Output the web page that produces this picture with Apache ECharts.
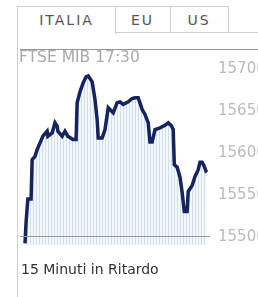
<!DOCTYPE html>
<html>
<head>
<meta charset="utf-8">
<script src="https://cdn.jsdelivr.net/npm/echarts@6/dist/echarts.min.js"></script>
<style>
  html, body { margin: 0; padding: 0; background: #fff; }
  #page { position: relative; width: 258px; height: 297px; overflow: hidden; font-family: "DejaVu Sans", sans-serif; }
  .tab { position: absolute; top: 6px; height: 27px; box-sizing: border-box; border: 1px solid #cfcfcf;
         color: #555; font-size: 14px; letter-spacing: 2px; text-align: center; line-height: 27px; }
  #tabIt { left: 17px; width: 99px; border-bottom: none; height: 28px; }
  #tabEu { left: 115px; width: 56px; border-left: none; }
  #tabUs { left: 170px; width: 59px; border-left: none; }
  #lineTab { position: absolute; left: 228px; top: 32px; width: 30px; border-top: 1px solid #cfcfcf; }
  #lineLeft { position: absolute; left: 17px; top: 33px; height: 264px; border-left: 1px solid #cfcfcf; }
  #lineTop { position: absolute; left: 20px; top: 49px; width: 238px; border-top: 1px solid #999; }
  #chart { position: absolute; left: 0; top: 0; width: 258px; height: 297px; }
  #footer { position: absolute; left: 21px; top: 261px; font-size: 14px; color: #333; }
</style>
</head>
<body>
<div id="page">
  <div class="tab" id="tabIt">ITALIA</div>
  <div class="tab" id="tabEu">EU</div>
  <div class="tab" id="tabUs">US</div>
  <div id="lineTab"></div>
  <div id="lineLeft"></div>
  <div id="lineTop"></div>
  <div id="chart"></div>
  <div id="footer">15 Minuti in Ritardo</div>
</div>
<script>
// minuti dalle 9:00
var minuti = [0, 3, 6, 8, 17, 20, 28, 34, 42, 50, 62, 64, 76, 84, 90, 92, 104, 112, 120, 134,
  143, 146, 154, 163, 171, 177, 182, 188, 196, 202, 205, 216, 224, 233, 238, 247, 258, 266, 275, 289,
  300, 308, 317, 328, 336, 345, 350, 356, 364, 378, 392, 401, 409, 415, 418, 426, 434, 440, 446, 454,
  457, 468, 476, 485, 490, 496, 502, 507, 510];
var valori = [15492, 15517, 15518, 15545, 15545, 15592, 15596, 15604, 15612, 15620, 15626, 15620, 15624, 15636, 15632, 15626, 15620, 15626, 15620, 15616,
  15616, 15660, 15673, 15684, 15691, 15692, 15689, 15685, 15664, 15640, 15618, 15618, 15628, 15654, 15654, 15648, 15660, 15661, 15658, 15661,
  15665, 15666, 15666, 15652, 15646, 15636, 15613, 15613, 15628, 15630, 15633, 15636, 15633, 15628, 15586, 15583, 15571, 15553, 15530, 15530,
  15554, 15561, 15572, 15580, 15589, 15589, 15584, 15578, 15577];
var etichetteY = [15500, 15550, 15600, 15650, 15700];
var titolo = "FTSE MIB 17:30";

// pattern a righe verticali per l'area
var pat = document.createElement("canvas");
pat.width = 3; pat.height = 4;
var ctx = pat.getContext("2d");
ctx.fillStyle = "#f5f8fb";
ctx.fillRect(0, 0, 3, 4);
ctx.fillStyle = "#d3deeb";
ctx.fillRect(0, 0, 1, 4);

var dati = minuti.map(function (m, i) { return [m, valori[i]]; });

var myChart = echarts.init(document.getElementById("chart"));
var option = {
  animation: false,
  title: {
    text: titolo,
    left: 19,
    top: 50,
    padding: 0,
    textStyle: { fontSize: 15.5, fontWeight: "normal", color: "#aaa", fontFamily: "DejaVu Sans" }
  },
  grid: { left: 20, right: 48, top: 50, bottom: 52, containLabel: false, outerBoundsMode: "none" },
  xAxis: {
    type: "value",
    min: -14,
    max: 518,
    show: false
  },
  yAxis: {
    type: "value",
    position: "right",
    min: 15490,
    max: 15723,
    axisLine: { show: false },
    axisTick: { show: false },
    splitLine: { show: false },
    axisLabel: {
      customValues: etichetteY,
      margin: 8,
      color: "#bbb",
      fontSize: 15,
      fontFamily: "DejaVu Sans",
      formatter: function (v) { return String(v); }
    }
  },
  series: [
    {
      type: "line",
      data: dati,
      smooth: false,
      symbol: "none",
      lineStyle: { color: "#15235e", width: 3.5, join: "miter" },
      areaStyle: { color: { image: pat, repeat: "repeat" }, opacity: 1 },
      markLine: {
        silent: true,
        symbol: "none",
        label: { show: false },
        lineStyle: { color: "#999", width: 1, type: "solid" },
        data: [{ yAxis: 15500 }]
      }
    }
  ]
};
myChart.setOption(option);
</script>
</body>
</html>
